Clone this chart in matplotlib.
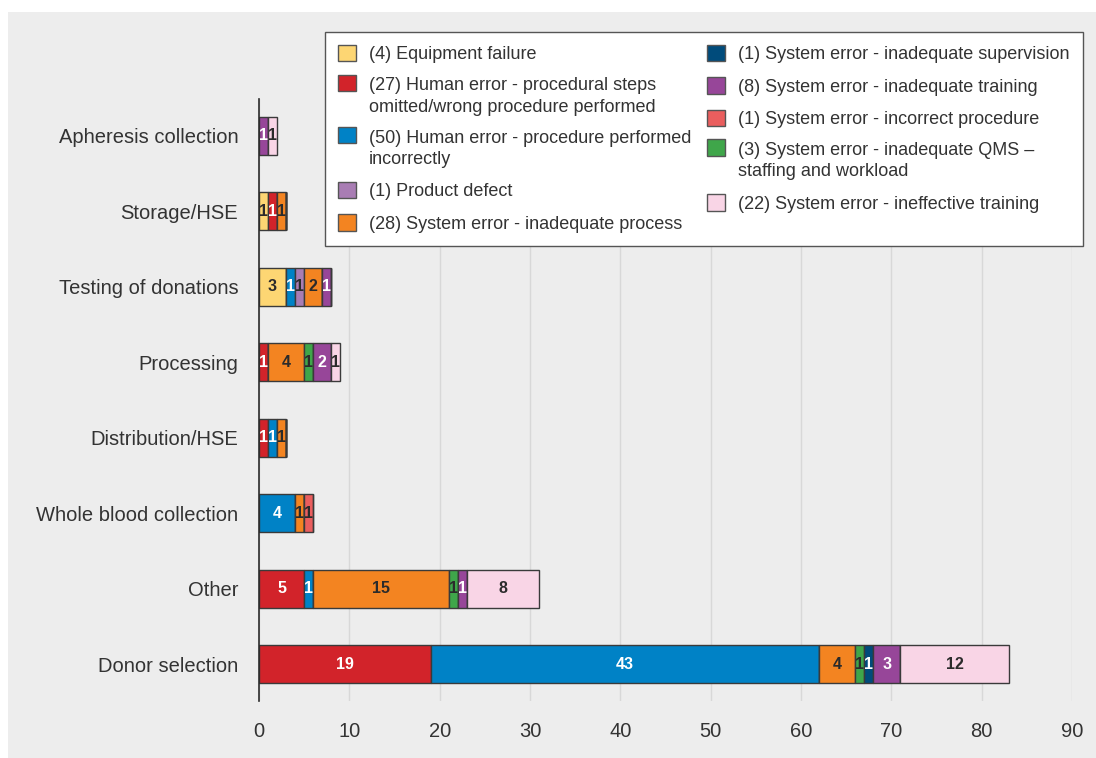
import matplotlib
matplotlib.use("Agg")
import matplotlib.pyplot as plt
from matplotlib.patches import Rectangle
from matplotlib.legend_handler import HandlerPatch, update_from_first_child
import numpy as np

plt.rcParams['font.family'] = ['Liberation Sans', 'DejaVu Sans']

# Areas, bottom to top
categories = ["Donor selection", "Other", "Whole blood collection", "Distribution/HSE",
              "Processing", "Testing of donations", "Storage/HSE", "Apheresis collection"]

# Counts per area for each cause
equipment_failure   = [0, 0, 0, 0, 0, 3, 1, 0]
human_steps_omitted = [19, 5, 0, 1, 1, 0, 1, 0]
human_incorrect     = [43, 1, 4, 1, 0, 1, 0, 0]
product_defect      = [0, 0, 0, 0, 0, 1, 0, 0]
inadequate_process  = [4, 15, 1, 1, 4, 2, 1, 0]
inadequate_qms      = [1, 1, 0, 0, 1, 0, 0, 0]
inadequate_superv   = [1, 0, 0, 0, 0, 0, 0, 0]
inadequate_training = [3, 1, 0, 0, 2, 1, 0, 1]
incorrect_procedure = [0, 0, 1, 0, 0, 0, 0, 0]
ineffective_training = [12, 8, 0, 0, 1, 0, 0, 1]

# Causes in stacking order: (legend label, colour, value-label colour, counts)
series = [
    ("(4) Equipment failure", "#FDD673", "#2b2b2b", equipment_failure),
    ("(27) Human error - procedural steps\nomitted/wrong procedure performed", "#D2232A", "white", human_steps_omitted),
    ("(50) Human error - procedure performed\nincorrectly", "#0082C6", "white", human_incorrect),
    ("(1) Product defect", "#A97DB4", "#2b2b2b", product_defect),
    ("(28) System error - inadequate process", "#F38421", "#2b2b2b", inadequate_process),
    ("(3) System error - inadequate QMS \u2013\nstaffing and workload", "#3FA64A", "#2b2b2b", inadequate_qms),
    ("(1) System error - inadequate supervision", "#004B7B", "white", inadequate_superv),
    ("(8) System error - inadequate training", "#974699", "white", inadequate_training),
    ("(1) System error - incorrect procedure", "#EA5E5E", "#2b2b2b", incorrect_procedure),
    ("(22) System error - ineffective training", "#F9D5E6", "#2b2b2b", ineffective_training),
]

# Legend layout: two columns
legend_order = [0, 1, 2, 3, 4, 6, 7, 8, 5, 9]

x_ticks = [0, 10, 20, 30, 40, 50, 60, 70, 80, 90]

text_color = "#333333"
panel_color = "#EDEDED"

W, H = 1096, 758
fig = plt.figure(figsize=(W / 100, H / 100), dpi=100)
fig.patch.set_facecolor("white")
fig.patches.append(Rectangle((8 / W, 0), 1 - 8 / W, 1 - 12 / H, transform=fig.transFigure,
                             facecolor=panel_color, edgecolor="none", zorder=-10))

ax = fig.add_axes([259 / W, 1 - 701 / H, (1072 - 259) / W, (701 - 99) / H])
ax.set_facecolor(panel_color)

y = np.arange(len(categories))
left = np.zeros(len(categories))
handles = []
for label, color, tcolor, vals in series:
    vals = np.array(vals, dtype=float)
    bars = ax.barh(y, vals, left=left, height=0.504, color=color, edgecolor="#3a3a3a",
                   linewidth=1.0, label=label, zorder=3)
    handles.append(bars)
    for yi, (l, v) in enumerate(zip(left, vals)):
        if v > 0:
            ax.text(l + v / 2, yi, f"{int(v)}", ha="center", va="center", color=tcolor,
                    fontsize=11.5, fontweight="bold", zorder=4)
    left += vals

ax.set_xlim(0, 90)
ax.set_ylim(-0.49, 7.49)
ax.set_xticks(x_ticks)
ax.set_yticks(y)
ax.set_yticklabels(categories)
ax.tick_params(axis="both", length=0, labelsize=14.5, labelcolor=text_color)
ax.tick_params(axis="y", pad=15)
ax.tick_params(axis="x", pad=15)
ax.grid(axis="x", color="#D8D8D8", linewidth=1.0, zorder=0)
ax.grid(axis="y", visible=False)
ax.set_axisbelow(True)
for s in ["top", "right", "bottom"]:
    ax.spines[s].set_visible(False)
ax.spines["left"].set_color("#2b2b2b")
ax.spines["left"].set_linewidth(1.2)
ax.spines["left"].set_zorder(5)

LEG_FS = 13
LINESPACING = 1.33


def first_line_patch(legend, orig_handle, xdescent, ydescent, width, height, fontsize):
    # Lift the swatch so it sits beside the first line of a two-line label
    shift = 0.5 * LINESPACING * fontsize * 1.17
    return Rectangle((-xdescent, -ydescent + shift), width, height)


handler_map = {}
for i, (label, *_rest) in enumerate(series):
    if "\n" in label:
        handler_map[handles[i]] = HandlerPatch(patch_func=first_line_patch,
                                               update_func=update_from_first_child)

leg = fig.legend([handles[i] for i in legend_order], [series[i][0] for i in legend_order],
                 loc="upper left", bbox_to_anchor=(325 / W, 1 - 32 / H), ncol=2,
                 fontsize=LEG_FS, frameon=True, fancybox=False, framealpha=1.0,
                 borderaxespad=0, handlelength=1.0, handleheight=1.0, handletextpad=0.7,
                 borderpad=0.72, labelspacing=0.78, columnspacing=0.9,
                 labelcolor=text_color, handler_map=handler_map)
leg.get_frame().set_edgecolor("#555555")
leg.get_frame().set_linewidth(1.0)
leg.get_frame().set_facecolor("white")
for t in leg.get_texts():
    t.set_linespacing(LINESPACING)
for h in leg.legend_handles:
    h.set_edgecolor("#555555")

fig.savefig("out.png", dpi=100)
